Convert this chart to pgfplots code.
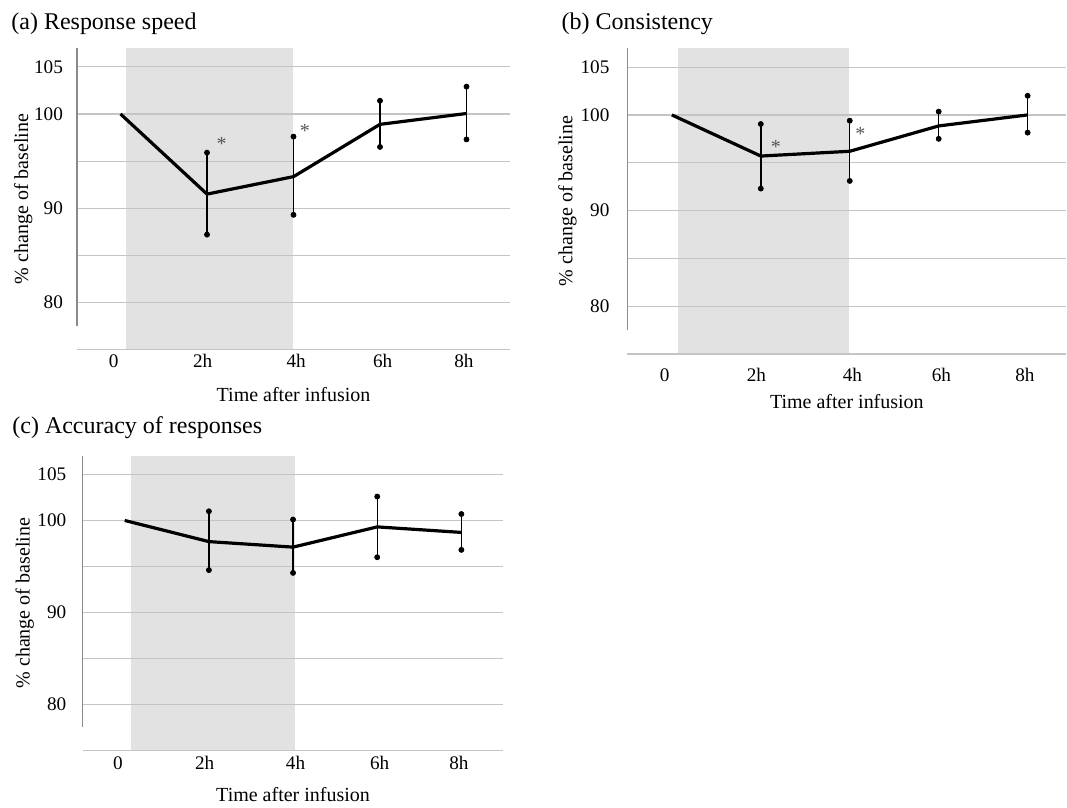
\documentclass[border=0pt]{standalone}
\usepackage{fontspec}
\setmainfont{Liberation Serif}
\usepackage{pgfplots}
\pgfplotsset{compat=1.18}

\definecolor{shade}{HTML}{E2E2E2}
\definecolor{gridc}{HTML}{C4C4C4}
\definecolor{axc}{HTML}{8A8A8A}
\definecolor{starc}{HTML}{555555}

\tikzset{astr/.style={starc, font=\fontsize{10}{11}\selectfont, yshift=-1.6pt}}

\pgfplotsset{
  panel/.style={
    scale only axis, set layers, clip=false,
    anchor=south west,
    xmin=-0.5, xmax=4.5, ymin=75, ymax=107,
    axis line style={draw=none},
    major tick length=0pt,
    ytick={75,80,85,90,95,100,105},
    yticklabels={,80,,90,,100,105},
    ymajorgrids,
    grid style={gridc, line width=0.6pt},
    xtick={-0.08,0.95,2.03,3.03,3.97},
    xticklabels={0,2h,4h,6h,8h},
    tick label style={font=\fontsize{9.6}{11}\selectfont},
    /pgf/number format/assume math mode=true,
    label style={font=\fontsize{10}{12}\selectfont},
    xlabel={Time after infusion},
    ylabel={\% change of baseline},
  },
  meanline/.style={black, line width=1.6pt, mark=none},
  errs/.style={draw=none, mark=none, skip coords between index={0}{1},
    error bars/.cd, y dir=both, y explicit,
    error mark=*, error mark options={draw=black, fill=black, mark size=1.25pt},
    error bar style={draw=black, line width=0.7pt}},
}

\pgfplotstableread{
x y ep em
0 100.00 0 0
1 91.50 4.40 4.30
2 93.35 4.25 4.05
3 98.90 2.50 2.40
4 100.05 2.85 2.75
}\dataA

\pgfplotstableread{
x y ep em
0 100.00 0 0
1 95.70 3.35 3.40
2 96.20 3.20 3.10
3 98.85 1.50 1.35
4 100.00 2.00 1.85
}\dataB

\pgfplotstableread{
x y ep em
0 100.00 0 0
1 97.70 3.30 3.10
2 97.10 3.00 2.80
3 99.30 3.30 3.30
4 98.70 2.00 1.90
}\dataC

\begin{document}
\begin{tikzpicture}
\path (0pt,0pt) rectangle (533.5pt,-404pt);

% titles
\node[anchor=base west, inner sep=0pt, font=\fontsize{12}{14}\selectfont] at (5.5pt,-14.65pt) {(a) Response speed};
\node[anchor=base west, inner sep=0pt, font=\fontsize{12}{14}\selectfont] at (280.8pt,-14.65pt) {(b) Consistency};
\node[anchor=base west, inner sep=0pt, font=\fontsize{12}{14}\selectfont] at (6pt,-217pt) {(c) Accuracy of responses};

% ---------- (a)
\begin{axis}[panel,
  at={(38.65pt,-174.9pt)}, width=216.35pt, height=150.9pt,
  xticklabel style={anchor=base, inner sep=0pt, yshift=-8.85pt},
  yticklabel style={anchor=east, inner sep=0pt, xshift=-7pt},
  xlabel style={at={(axis description cs:0.5,0)}, anchor=base, inner sep=0pt, yshift=-26pt},
  ylabel style={at={(axis description cs:-0.1248,0.5)}, anchor=center, inner sep=0pt},
]
\addplot[fill=shade, draw=none, on layer=axis background] coordinates {(0.06,75) (0.06,107) (1.99,107) (1.99,75)} -- cycle;
\draw[axc, line width=0.8pt] (axis cs:-0.5,77.5) -- (axis cs:-0.5,107);
\addplot[meanline] table[x=x,y=y] {\dataA};
\addplot[errs] table[x=x,y=y,y error plus=ep,y error minus=em] {\dataA};
\node[astr] at (axis cs:1.17,97.2) {*};
\node[astr] at (axis cs:2.13,98.5) {*};
\end{axis}

% ---------- (b)
\begin{axis}[panel, xmax=4.436,
  at={(313.85pt,-177.1pt)}, width=219.6pt, height=153.1pt,
  xticklabel style={anchor=base, inner sep=0pt, yshift=-13.5pt},
  yticklabel style={anchor=east, inner sep=0pt, xshift=-8.8pt},
  xlabel style={at={(axis description cs:0.5,0)}, anchor=base, inner sep=0pt, yshift=-27pt},
  ylabel style={at={(axis description cs:-0.1366,0.5)}, anchor=center, inner sep=0pt},
]
\addplot[fill=shade, draw=none, on layer=axis background] coordinates {(0.07,75) (0.07,107) (1.99,107) (1.99,75)} -- cycle;
\draw[axc, line width=0.8pt] (axis cs:-0.5,77.5) -- (axis cs:-0.5,107);
\addplot[meanline] table[x=x,y=y] {\dataB};
\addplot[errs] table[x=x,y=y,y error plus=ep,y error minus=em] {\dataB};
\node[astr] at (axis cs:1.17,97.0) {*};
\node[astr] at (axis cs:2.12,98.3) {*};
\end{axis}

% ---------- (c)
\begin{axis}[panel,
  at={(41.35pt,-375.35pt)}, width=210.5pt, height=147.2pt,
  xticklabel style={anchor=base, inner sep=0pt, yshift=-9.5pt},
  yticklabel style={anchor=east, inner sep=0pt, xshift=-8pt},
  xlabel style={at={(axis description cs:0.5,0)}, anchor=base, inner sep=0pt, yshift=-25.5pt},
  ylabel style={at={(axis description cs:-0.1378,0.5)}, anchor=center, inner sep=0pt},
]
\addplot[fill=shade, draw=none, on layer=axis background] coordinates {(0.08,75) (0.08,107) (2.02,107) (2.02,75)} -- cycle;
\draw[axc, line width=0.8pt] (axis cs:-0.5,77.5) -- (axis cs:-0.5,107);
\addplot[meanline] table[x=x,y=y] {\dataC};
\addplot[errs] table[x=x,y=y,y error plus=ep,y error minus=em] {\dataC};
\end{axis}
\end{tikzpicture}
\end{document}
